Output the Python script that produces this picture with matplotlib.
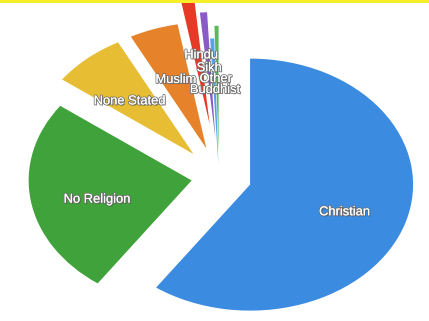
import matplotlib
matplotlib.use("Agg")
import matplotlib.pyplot as plt
import matplotlib.patheffects as pe
from matplotlib.patches import Rectangle

categories = ["Christian", "No Religion", "None Stated", "Muslim", "Hindu", "Sikh", "Other", "Buddhist"]
values = [59.3, 25.1, 7.2, 4.8, 1.3, 0.7, 0.4, 0.4]
colors = ["#3b8ce0", "#3fa23a", "#e6bd33", "#e5822a", "#e63a26", "#8a5bc6", "#4ea6ea", "#5cb85c"]
explode = [0.2, 0.17, 0.24, 0.24, 0.42, 0.31, 0.1, 0.2]

# label positions in data units (placed inside the wedges)
label_pos = {
    "Christian": (0.77, -0.28),
    "No Religion": (-0.75, -0.18),
    "None Stated": (-0.55, 0.6),
    "Muslim": (-0.265, 0.77),
    "Hindu": (-0.11, 0.965),
    "Sikh": (-0.06, 0.863),
    "Other": (-0.02, 0.777),
    "Buddhist": (-0.025, 0.69),
}

fig = plt.figure(figsize=(4.29, 3.21), dpi=100)
fig.patch.set_facecolor("white")
ax = fig.add_axes([0, 0, 1, 1])

wedges, _ = ax.pie(values, colors=colors, explode=explode, startangle=90,
                   counterclock=False, radius=1.0,
                   wedgeprops=dict(linewidth=0))

ax.set_aspect("auto")
ax.set_xlim(-219 / 163, (429 - 219) / 163)
ax.set_ylim(-144 / 126, 177 / 126)
ax.axis("off")

effects = [pe.withSimplePatchShadow(offset=(0.8, -0.8), shadow_rgbFace="#333333", alpha=0.5),
           pe.withStroke(linewidth=1.3, foreground="#707070"),
           pe.Normal()]
for name in categories:
    x, y = label_pos[name]
    ax.text(x, y, name, ha="center", va="center", color="white",
            fontsize=9.3, family="Liberation Sans", path_effects=effects, zorder=5)

fig.patches.append(Rectangle((0, 1 - 3 / 321), 1, 3 / 321, transform=fig.transFigure,
                             facecolor="#f7ee2a", edgecolor="none", zorder=10))

fig.savefig("out.png", dpi=100)
